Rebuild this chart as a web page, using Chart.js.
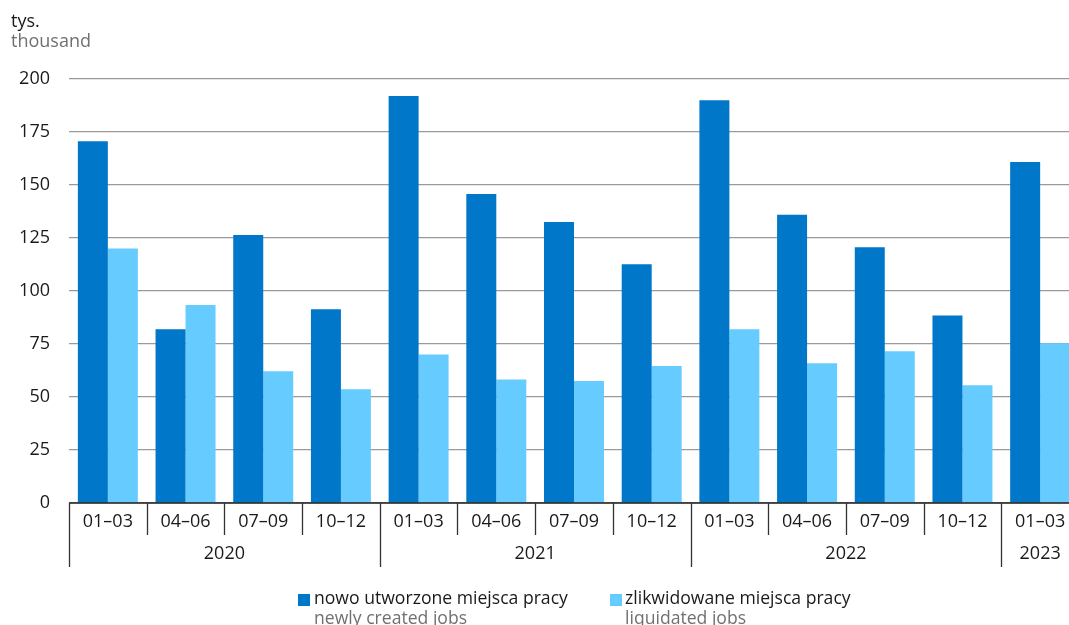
<!DOCTYPE html>
<html>
<head>
<meta charset="utf-8">
<script src="https://cdn.jsdelivr.net/npm/chart.js@4.4.0/dist/chart.umd.min.js"></script>
<style>
  html, body { margin: 0; padding: 0; background: #fff; overflow: hidden; }
  #wrap { position: relative; width: 1080px; height: 625px; }
  canvas { position: absolute; left: 0; top: 0; }
  .t { position: absolute; font-family: "Open Sans", sans-serif; font-size: 18px; line-height: 20px; white-space: nowrap; }
  .lg { font-size: 17.6px; }
  .black { color: #1a1a1a; }
  .gray { color: #707070; }
  .sq { position: absolute; width: 12px; height: 12px; }
</style>
</head>
<body>
<div id="wrap">
  <canvas id="c" width="1080" height="625"></canvas>
  <div class="t black" style="left:11px; top:10px;">tys.</div>
  <div class="t gray" style="left:11px; top:30px;">thousand</div>

  <div class="sq" style="left:298px; top:594px; background:#0077C8;"></div>
  <div class="t lg black" style="left:314px; top:587px;">nowo utworzone miejsca pracy</div>
  <div class="t lg gray" style="left:314px; top:607px;">newly created jobs</div>

  <div class="sq" style="left:610px; top:594px; background:#66CCFF;"></div>
  <div class="t lg black" style="left:625px; top:587px;">zlikwidowane miejsca pracy</div>
  <div class="t lg gray" style="left:625px; top:607px;">liquidated jobs</div>
</div>
<script>
const categories = ['01–03','04–06','07–09','10–12','01–03','04–06','07–09','10–12','01–03','04–06','07–09','10–12','01–03'];
const years = ['2020','2021','2022','2023'];
const yearSpans = [4, 4, 4, 1];
const newJobs = [170.6, 81.9, 126.4, 91.4, 192.0, 145.8, 132.5, 112.6, 190.0, 136.0, 120.6, 88.5, 160.8];
const liquidatedJobs = [120.0, 93.4, 62.1, 53.6, 70.0, 58.3, 57.6, 64.6, 81.9, 65.9, 71.6, 55.5, 75.3];
const yTicks = [0, 25, 50, 75, 100, 125, 150, 175, 200];

const FONT = '"Open Sans", sans-serif';

const axisPlugin = {
  id: 'groupAxis',
  afterDraw(chart) {
    const ctx = chart.ctx;
    const x = chart.scales.x;
    const area = chart.chartArea;
    const bottom = area.bottom;
    const half = (x.getPixelForValue(1) - x.getPixelForValue(0)) / 2;
    ctx.save();
    ctx.strokeStyle = '#222';
    ctx.lineWidth = 1.5;
    ctx.beginPath();
    ctx.moveTo(area.left, bottom);
    ctx.lineTo(area.right, bottom);
    ctx.stroke();
    const yearStart = [];
    let acc = 0;
    yearSpans.forEach(s => { yearStart.push(acc); acc += s; });
    ctx.strokeStyle = '#333';
    ctx.lineWidth = 1.3;
    for (let i = 0; i < categories.length; i++) {
      const bx = Math.round(x.getPixelForValue(i) - half) + 0.5;
      const isYear = yearStart.includes(i);
      ctx.beginPath();
      ctx.moveTo(bx, bottom);
      ctx.lineTo(bx, bottom + (isYear ? 64 : 32));
      ctx.stroke();
    }
    ctx.fillStyle = '#1a1a1a';
    ctx.font = '18px ' + FONT;
    ctx.textAlign = 'center';
    ctx.textBaseline = 'middle';
    categories.forEach((c, i) => {
      ctx.fillText(c, x.getPixelForValue(i), bottom + 19);
    });
    years.forEach((y, k) => {
      const s = yearStart[k];
      const e = s + yearSpans[k] - 1;
      const cx = (x.getPixelForValue(s) + x.getPixelForValue(e)) / 2;
      ctx.fillText(y, cx, bottom + 50.5);
    });
    ctx.restore();
  }
};

new Chart(document.getElementById('c'), {
  type: 'bar',
  data: {
    labels: categories,
    datasets: [
      { label: 'nowo utworzone miejsca pracy', data: newJobs, backgroundColor: '#0077C8', borderWidth: 0 },
      { label: 'zlikwidowane miejsca pracy', data: liquidatedJobs, backgroundColor: '#66CCFF', borderWidth: 0 }
    ]
  },
  options: {
    responsive: false,
    animation: false,
    devicePixelRatio: 1,
    layout: { padding: { left: 0, right: 1, top: 79, bottom: 122 } },
    plugins: { legend: { display: false }, tooltip: { enabled: false } },
    datasets: { bar: { categoryPercentage: 0.772, barPercentage: 1.0 } },
    scales: {
      x: { display: false, offset: true },
      y: {
        min: 0, max: 200,
        afterBuildTicks(scale) { scale.ticks = yTicks.map(v => ({ value: v })); },
        afterFit(scale) { scale.width = 69; },
        border: { display: false },
        grid: { color: '#9a9a9a', lineWidth: 1.2, drawTicks: false, tickLength: 0 },
        ticks: { color: '#1a1a1a', padding: 19, font: { family: FONT, size: 18 } }
      }
    }
  },
  plugins: [axisPlugin]
});
</script>
</body>
</html>
